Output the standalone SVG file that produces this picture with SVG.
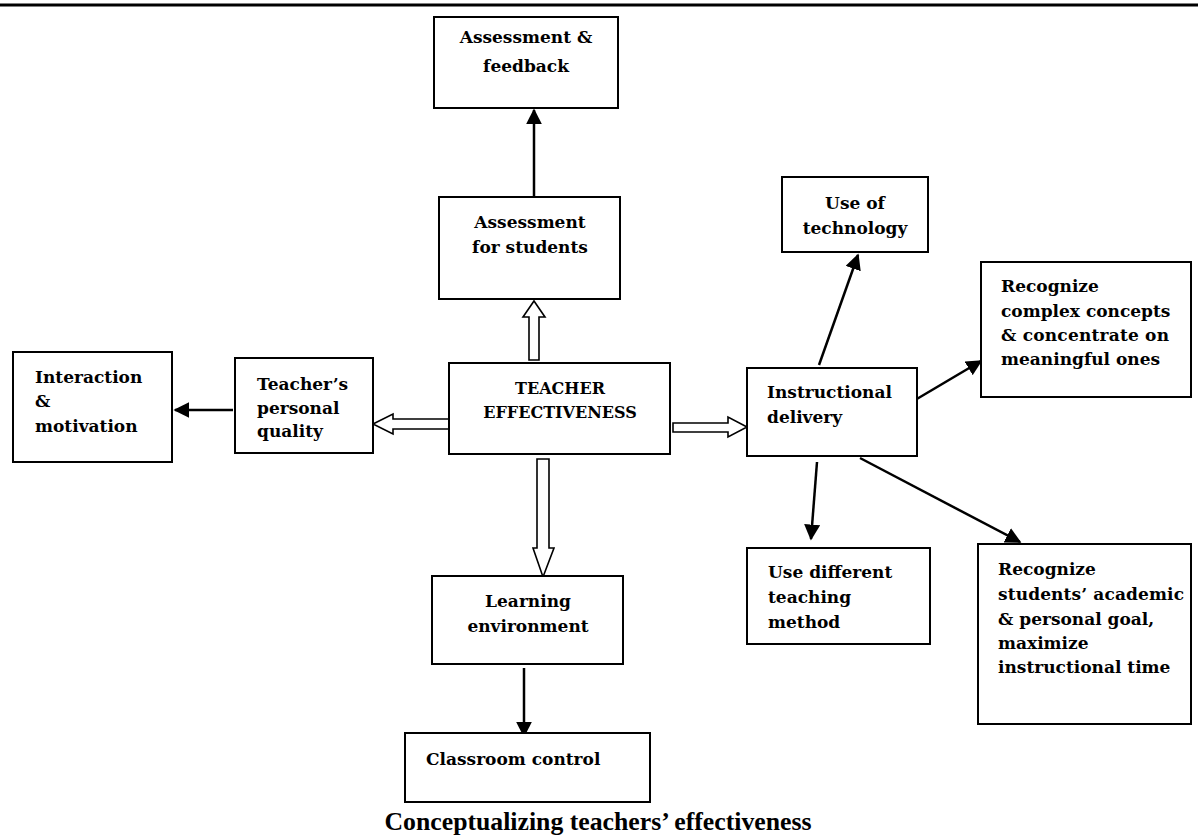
<svg xmlns="http://www.w3.org/2000/svg" width="1198" height="839" viewBox="0 0 1198 839">
<style>
.box{fill:#fff;stroke:#000;stroke-width:2}
.t{font-family:"DejaVu Serif","Liberation Serif",serif;font-weight:bold;font-size:17px;fill:#000}
.c{text-anchor:middle}
.cap16{font-size:16px}
.ln{stroke:#000;stroke-width:2.5;fill:none}
.hol{fill:#fff;stroke:#000;stroke-width:1.6;stroke-linejoin:miter}
.cap{font-family:"Liberation Serif","DejaVu Serif",serif;font-weight:bold;font-size:25px;fill:#000;text-anchor:middle}
</style>
<defs>
<marker id="ah" viewBox="0 0 10 10" refX="9" refY="5" markerWidth="6.4" markerHeight="6.4" orient="auto" markerUnits="strokeWidth">
<path d="M0,0 L10,5 L0,10 Z" fill="#000"/>
</marker>
</defs>
<rect width="1198" height="839" fill="#fff"/>
<line x1="0" y1="5" x2="1198" y2="5" stroke="#000" stroke-width="3"/>

<g id="connectors">
<line class="ln" x1="534" y1="196" x2="534" y2="110" marker-end="url(#ah)"/>
<polygon class="hol" points="534,301 545,317 539,317 539,360 529,360 529,317 523,317"/>
<polygon class="hol" points="543,577 554,548 549,548 549,459 537,459 537,548 533,548"/>
<polygon class="hol" points="373,424 393,414 393,419 449,419 449,429 393,429 393,434"/>
<polygon class="hol" points="747,427 728,417 728,423 673,423 673,432 728,432 728,437"/>
<line class="ln" x1="233" y1="410" x2="175" y2="410" marker-end="url(#ah)"/>
<line class="ln" x1="524" y1="668" x2="524" y2="736" marker-end="url(#ah)"/>
<line class="ln" x1="819" y1="365" x2="858" y2="255" marker-end="url(#ah)"/>
<line class="ln" x1="905" y1="406" x2="981" y2="361" marker-end="url(#ah)"/>
<line class="ln" x1="817" y1="462" x2="811" y2="539" marker-end="url(#ah)"/>
<line class="ln" x1="860" y1="458" x2="1020" y2="542" marker-end="url(#ah)"/>
</g>

<g id="assessment-feedback">
<rect class="box" x="434" y="17" width="184" height="91"/>
<text class="t c" x="526" y="43">Assessment &amp;</text>
<text class="t c" x="526" y="72">feedback</text>
</g>

<g id="assessment-students">
<rect class="box" x="439" y="197" width="181" height="102"/>
<text class="t c" x="530" y="228">Assessment</text>
<text class="t c" x="530" y="253">for students</text>
</g>

<g id="teacher-effectiveness">
<rect class="box" x="449" y="363" width="221" height="91"/>
<text class="t c cap16" x="560" y="394">TEACHER</text>
<text class="t c cap16" x="560" y="418">EFFECTIVENESS</text>
</g>

<g id="personal-quality">
<rect class="box" x="235" y="358" width="138" height="95"/>
<text class="t" x="257" y="390">Teacher’s</text>
<text class="t" x="257" y="414">personal</text>
<text class="t" x="257" y="437">quality</text>
</g>

<g id="interaction">
<rect class="box" x="13" y="352" width="159" height="110"/>
<text class="t" x="35" y="383">Interaction</text>
<text class="t" x="35" y="407">&amp;</text>
<text class="t" x="35" y="432">motivation</text>
</g>

<g id="learning-environment">
<rect class="box" x="432" y="576" width="191" height="88"/>
<text class="t c" x="528" y="607">Learning</text>
<text class="t c" x="528" y="632">environment</text>
</g>

<g id="classroom-control">
<rect class="box" x="405" y="733" width="245" height="69"/>
<text class="t" x="426" y="765">Classroom control</text>
</g>

<g id="instructional-delivery">
<rect class="box" x="747" y="368" width="170" height="88"/>
<text class="t" x="767" y="398">Instructional</text>
<text class="t" x="767" y="423">delivery</text>
</g>

<g id="use-technology">
<rect class="box" x="782" y="177" width="146" height="75"/>
<text class="t c" x="855" y="209">Use of</text>
<text class="t c" x="855" y="234">technology</text>
</g>

<g id="complex-concepts">
<rect class="box" x="981" y="262" width="210" height="135"/>
<text class="t" x="1001" y="292">Recognize</text>
<text class="t" x="1001" y="317">complex concepts</text>
<text class="t" x="1001" y="341" textLength="168" lengthAdjust="spacing">&amp; concentrate on</text>
<text class="t" x="1001" y="365">meaningful ones</text>
</g>

<g id="teaching-method">
<rect class="box" x="747" y="548" width="183" height="96"/>
<text class="t" x="768" y="578">Use different</text>
<text class="t" x="768" y="603">teaching</text>
<text class="t" x="768" y="628">method</text>
</g>

<g id="students-goals">
<rect class="box" x="978" y="544" width="213" height="180"/>
<text class="t" x="998" y="575">Recognize</text>
<text class="t" x="998" y="600" textLength="186" lengthAdjust="spacing">students’ academic</text>
<text class="t" x="998" y="625">&amp; personal goal,</text>
<text class="t" x="998" y="649">maximize</text>
<text class="t" x="998" y="673">instructional time</text>
</g>

<text class="cap" x="598" y="830" textLength="427" lengthAdjust="spacingAndGlyphs">Conceptualizing teachers’ effectiveness</text>
</svg>
